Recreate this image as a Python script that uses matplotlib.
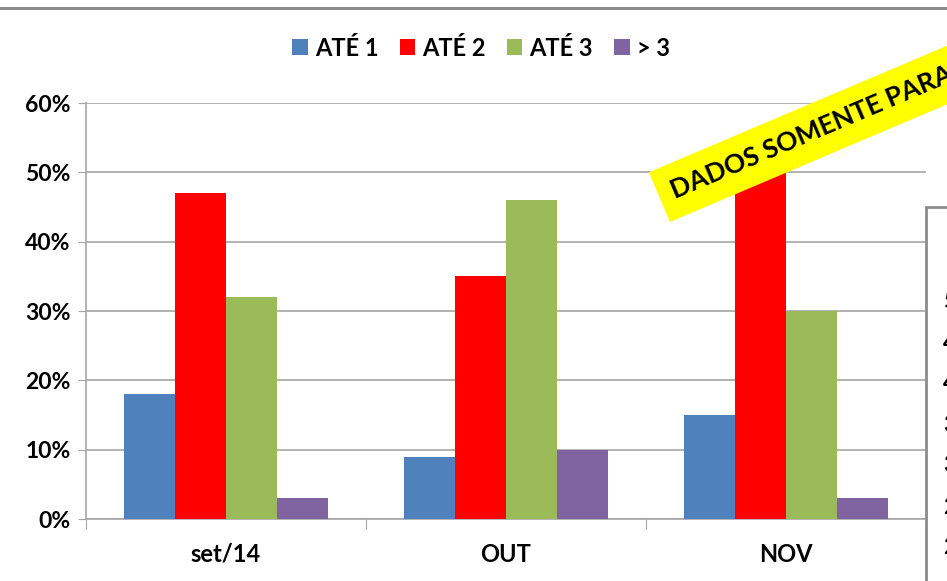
#import section
import numpy as np
import matplotlib
matplotlib.use('Agg')
import matplotlib.pyplot as plt
from matplotlib.patches import Polygon, Rectangle

# Data section
categories = ['set/14', 'OUT', 'NOV']
series_names = ['ATÉ 1', 'ATÉ 2', 'ATÉ 3', '> 3']
ate1 = [0.18, 0.09, 0.15]
ate2 = [0.47, 0.35, 0.53]
ate3 = [0.32, 0.46, 0.30]
mais3 = [0.03, 0.10, 0.03]
y_ticks = [0, 0.1, 0.2, 0.3, 0.4, 0.5, 0.6]
side_labels = ['50%', '45%', '40%', '35%', '30%', '25%', '20%']
banner_text = 'DADOS SOMENTE PARA'

colors = ['#4F81BD', '#FF0000', '#9BBB59', '#8064A2']
W, H = 947, 581

plt.rcParams['font.family'] = ['Lato', 'DejaVu Sans']
plt.rcParams['font.weight'] = 'bold'

fig = plt.figure(figsize=(W / 100, H / 100), dpi=100)

# helper: pixel (from top-left) -> figure fraction
def px(x, y):
    return (x / W, 1 - y / H)

ax = fig.add_axes([86 / W, (H - 519) / H, 840 / W, 416 / H])

x = np.arange(len(categories))
w = 0.182
all_series = [ate1, ate2, ate3, mais3]
for i, vals in enumerate(all_series):
    ax.bar(x + (i - 1.5) * w, vals, w, color=colors[i], label=series_names[i], zorder=3)

ax.set_xlim(-0.5, 2.5)
ax.set_ylim(0, 0.6)
ax.set_yticks(y_ticks)
ax.set_yticklabels([f'{int(round(t * 100))}%' for t in y_ticks], fontsize=16.5, fontweight='bold')
ax.yaxis.grid(True, color='#a6a6a6', linewidth=1.2, zorder=0)
ax.set_axisbelow(True)

# category ticks at group boundaries, labels in the middle
ax.set_xticks([-0.5, 0.5, 1.5, 2.5])
ax.set_xticklabels([])
ax.set_xticks(x, minor=True)
ax.set_xticklabels(categories, minor=True, fontsize=17, fontweight='bold')
ax.tick_params(axis='x', which='minor', length=0, pad=17)
ax.tick_params(axis='x', which='major', length=7, color='#a6a6a6', direction='out')
ax.tick_params(axis='y', length=6, color='#a6a6a6', pad=5)

for s in ['top', 'right']:
    ax.spines[s].set_visible(False)
for s in ['left', 'bottom']:
    ax.spines[s].set_color('#a6a6a6')
    ax.spines[s].set_linewidth(1.2)

leg = fig.legend(loc='center', bbox_to_anchor=px(481, 48), ncol=4, frameon=False,
                 fontsize=17, handlelength=0.65, handleheight=0.65,
                 handletextpad=0.3, columnspacing=0.9)
for t in leg.get_texts():
    t.set_fontweight('bold')

# Top border line
fig.add_artist(plt.Line2D([0, 1], [1 - 8 / H, 1 - 8 / H], color='#8c8c8c', linewidth=2.2))

# Partially visible chart box on the right
fig.add_artist(Rectangle(px(926, 700), 100 / W, (700 - 207) / H, facecolor='white',
                         edgecolor='#8c8c8c', linewidth=2, zorder=5))
for i, lab in enumerate(side_labels):
    fig.text(943 / W, 1 - (302 + 41 * i) / H, lab, fontsize=16, fontweight='bold',
             va='center', ha='left', zorder=6)

# Yellow banner
ang = np.deg2rad(23)
d = np.array([np.cos(ang), np.sin(ang)])       # along banner (y up)
n = np.array([-np.sin(ang), np.cos(ang)])      # across banner
bl = np.array([670, H - 222])
thick = 54
length = 450
corners = [bl, bl + d * length, bl + d * length + n * thick, bl + n * thick]
fig.add_artist(Polygon([(c[0] / W, c[1] / H) for c in corners], closed=True,
                       facecolor='#FFFF00', edgecolor='none', zorder=7))
start = bl + n * thick / 2 + d * 14
fig.text(start[0] / W, start[1] / H, banner_text, fontsize=19, fontweight='bold',
         rotation=23, rotation_mode='anchor', ha='left', va='center', zorder=8)

fig.savefig('out.png', dpi=100)
